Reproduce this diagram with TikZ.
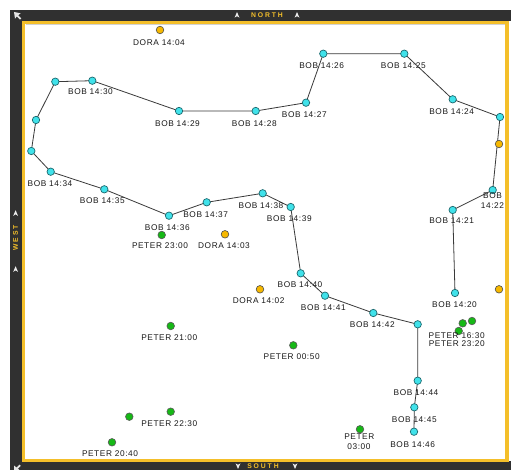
\documentclass[tikz,border=0pt]{standalone}
\usepackage{fontspec}
\setmainfont{Liberation Sans}[LetterSpace=7]
\newfontfamily\framefont{Liberation Sans}[LetterSpace=28]
\definecolor{band}{HTML}{303030}
\definecolor{gold}{HTML}{F4BF2A}
\definecolor{bobfill}{HTML}{40E2EA}
\definecolor{bobline}{HTML}{1E6A70}
\definecolor{dorafill}{HTML}{F6B800}
\definecolor{peterfill}{HTML}{16B816}
\definecolor{edgecol}{HTML}{3A3A3A}
\pgfdeclarelayer{bg}
\pgfdeclarelayer{edges}
\pgfsetlayers{bg,edges,main}
\tikzset{
  bob/.style={circle, fill=bobfill, draw=bobline, line width=0.7pt, minimum size=7.4pt, inner sep=0pt},
  dora/.style={circle, fill=dorafill, draw=black!70, line width=0.6pt, minimum size=7.6pt, inner sep=0pt},
  peter/.style={circle, fill=peterfill, draw=black!65, line width=0.6pt, minimum size=7.6pt, inner sep=0pt},
  lbl/.style={font=\fontsize{8.3}{9}\selectfont, text=black!90, inner sep=0pt},
  frametxt/.style={font=\framefont\bfseries\fontsize{6.8}{7}\selectfont, text=gold, inner sep=0pt},
  trail/.style={draw=edgecol, line width=0.8pt},
  tri/.pic={\fill[gray!15] (-2.4,2.8) -- (0,-2.8) -- (2.4,2.8) -- (0,1.4) -- cycle;}
}
\begin{document}
\begin{tikzpicture}[x=1pt,y=-1pt]
\useasboundingbox (0,0) rectangle (511,470);
\begin{pgfonlayer}{bg}
\fill[white] (0,0) rectangle (511,470);
\fill[band] (10,10) rectangle (511,21.5);
\fill[band] (10,10) rectangle (22,470);
\fill[band] (10,461) rectangle (511,470);
\draw[gold, line width=3.4pt] (23.5,22.7) rectangle (507,460.5);
\draw[gray!35, line width=0.7pt] (25.5,24.8) -- (505,24.8);
\end{pgfonlayer}

% frame texts and marks
\node[frametxt] (north) at (267,15.4) {NORTH};
\node[frametxt] (south) at (263,466.4) {SOUTH};
\node[frametxt, rotate=90] (west) at (15.6,238) {WEST};
\pic at (237,14.8) {tri};
\pic at (297,14.8) {tri};
\pic[rotate=180] at (238,466.2) {tri};
\pic[rotate=180] at (295,466.2) {tri};
\pic at (15.6,213) {tri};
\pic at (15.6,269) {tri};
\fill[gray!20] (14,12) -- (20.5,13.3) -- (18.3,15.3) -- (21.3,18.4) -- (20,19.6) -- (16.9,16.5) -- (15,18.6) -- cycle;
\fill[gray!20] (14,470) -- (14,465.5) -- (16.5,467.5) -- (19.5,464.6) -- (20.8,465.8) -- (17.8,468.7) -- (19.5,470) -- cycle;

% BOB trail nodes
\node[bob] (b20) at (455,293) {};
\node[bob] (b21) at (452.7,210) {};
\node[bob] (b22) at (492.7,190) {};
\node[bob] (b23) at (500,117) {};
\node[bob] (b24) at (452.7,99.3) {};
\node[bob] (b25) at (404.3,53.7) {};
\node[bob] (b26) at (323.3,53.7) {};
\node[bob] (b27) at (306,102.7) {};
\node[bob] (b28) at (255.7,111) {};
\node[bob] (b29) at (179,111) {};
\node[bob] (b30) at (92.3,80.7) {};
\node[bob] (b31) at (55.3,81.7) {};
\node[bob] (b32) at (36,120) {};
\node[bob] (b33) at (31.3,151) {};
\node[bob] (b34) at (50.7,171.7) {};
\node[bob] (b35) at (104.3,189.3) {};
\node[bob] (b36) at (169,215.7) {};
\node[bob] (b37) at (206.7,202.3) {};
\node[bob] (b38) at (262.7,193.3) {};
\node[bob] (b39) at (290.7,207) {};
\node[bob] (b40) at (300.7,273.3) {};
\node[bob] (b41) at (325,295.7) {};
\node[bob] (b42) at (373.3,313) {};
\node[bob] (b43) at (417.7,324.3) {};
\node[bob] (b44) at (417.7,380.7) {};
\node[bob] (b45) at (414.3,407.3) {};
\node[bob] (b46) at (414,431.7) {};

% DORA
\node[dora] (d04) at (160,30) {};
\node[dora] (d03) at (225,234.3) {};
\node[dora] (d02) at (260,289.3) {};
\node[dora] (dx1) at (499,144) {};
\node[dora] (dx2) at (499,289.3) {};

% PETER
\node[peter] (p2300) at (161.7,235) {};
\node[peter] (p2100) at (170.7,326) {};
\node[peter] (p0050) at (293.3,345.3) {};
\node[peter] (pa) at (462.7,323.3) {};
\node[peter] (pb) at (472,321) {};
\node[peter] (pc) at (458.7,331) {};
\node[peter] (p2230) at (170.7,411.7) {};
\node[peter] (pu) at (129.3,416.7) {};
\node[peter] (p2040) at (112,442.3) {};
\node[peter] (p0300) at (360,429.3) {};

\begin{pgfonlayer}{edges}
\draw[trail] (b20.center) -- (b21.center) -- (b22.center) -- (b23.center) -- (b24.center)
  -- (b25.center) -- (b26.center) -- (b27.center) -- (b28.center) -- (b29.center)
  -- (b30.center) -- (b31.center) -- (b32.center) -- (b33.center) -- (b34.center)
  -- (b35.center) -- (b36.center) -- (b37.center) -- (b38.center) -- (b39.center)
  -- (b40.center) -- (b41.center) -- (b42.center) -- (b43.center) -- (b44.center)
  -- (b45.center) -- (b46.center);
\end{pgfonlayer}

% labels
\node[lbl] (l20) at (454.5,305) {BOB 14:20};
\node[lbl] (l21) at (451.7,221) {BOB 14:21};
\node[lbl] (l22a) at (492.5,195.2) {BOB};
\node[lbl] (l22b) at (492.5,206) {14:22};
\node[lbl] (l24) at (451.7,111.7) {BOB 14:24};
\node[lbl] (l25) at (403.3,65.7) {BOB 14:25};
\node[lbl] (l26) at (321.7,65.7) {BOB 14:26};
\node[lbl] (l27) at (304.3,114.3) {BOB 14:27};
\node[lbl] (l28) at (254.3,123.3) {BOB 14:28};
\node[lbl] (l29) at (177.5,123.3) {BOB 14:29};
\node[lbl] (l30) at (90.5,92) {BOB 14:30};
\node[lbl] (l34) at (50,183.3) {BOB 14:34};
\node[lbl] (l35) at (102.3,201) {BOB 14:35};
\node[lbl] (l36) at (167.3,227.3) {BOB 14:36};
\node[lbl] (l37) at (205.7,214.3) {BOB 14:37};
\node[lbl] (l38) at (261,205.7) {BOB 14:38};
\node[lbl] (l39) at (289.3,218.7) {BOB 14:39};
\node[lbl] (l40) at (300,284.7) {BOB 14:40};
\node[lbl] (l41) at (323.3,307.3) {BOB 14:41};
\node[lbl] (l42) at (372.3,325) {BOB 14:42};
\node[lbl] (l44) at (416,392.7) {BOB 14:44};
\node[lbl] (l45) at (414.3,419.3) {BOB 14:45};
\node[lbl] (l46) at (412.7,444.3) {BOB 14:46};

\node[lbl] (ld04) at (159,42.5) {DORA 14:04};
\node[lbl] (ld03) at (224,246) {DORA 14:03};
\node[lbl] (ld02) at (258.7,301) {DORA 14:02};

\node[lbl] (lp2300) at (160,246) {PETER 23:00};
\node[lbl] (lp2100) at (169.3,337.7) {PETER 21:00};
\node[lbl] (lp0050) at (291.7,356.7) {PETER 00:50};
\node[lbl] (lp1630) at (456.7,335.7) {PETER 16:30};
\node[lbl] (lp2320) at (456.8,343.3) {PETER 23:20};
\node[lbl] (lp2230) at (169.3,423.3) {PETER 22:30};
\node[lbl] (lp2040) at (110,454) {PETER 20:40};
\node[lbl] (lp0300a) at (359.3,436.2) {PETER};
\node[lbl] (lp0300b) at (359,446.7) {03:00};
\end{tikzpicture}
\end{document}
